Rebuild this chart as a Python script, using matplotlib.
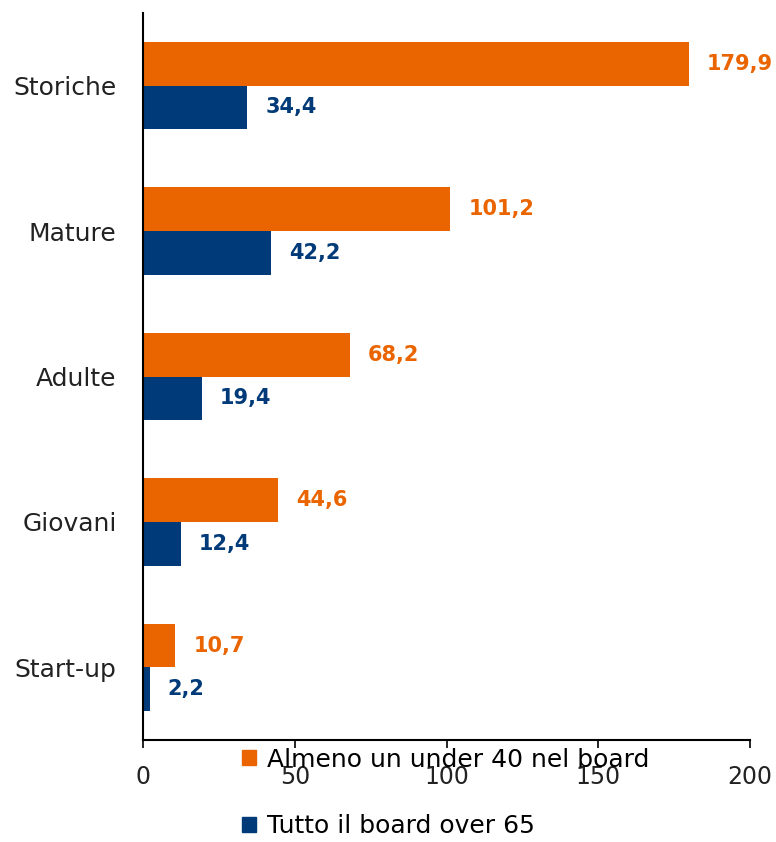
import matplotlib
matplotlib.use("Agg")
import matplotlib.pyplot as plt
import numpy as np
from matplotlib.patches import Patch

categories = ["Storiche", "Mature", "Adulte", "Giovani", "Start-up"]
under40 = [179.9, 101.2, 68.2, 44.6, 10.7]
over65 = [34.4, 42.2, 19.4, 12.4, 2.2]
series_names = ["Almeno un under 40 nel board", "Tutto il board over 65"]
xticks = [0, 50, 100, 150, 200]

ORANGE = "#EA6500"
BLUE = "#003A78"
LABEL_FONT = ["DejaVu Sans"]


def fmt(v):
    return f"{v:.1f}".replace(".", ",")


fig = plt.figure(figsize=(7.76, 8.42), dpi=100)
ax = fig.add_axes([0.1843, 0.1211, 0.7822, 0.8635])

y = np.arange(len(categories))
h = 0.30
b1 = ax.barh(y - h / 2, under40, height=h, color=ORANGE)
b2 = ax.barh(y + h / 2, over65, height=h, color=BLUE)

for bars, vals, col in [(b1, under40, ORANGE), (b2, over65, BLUE)]:
    for bar, v in zip(bars, vals):
        ax.annotate(fmt(v), (bar.get_width(), bar.get_y() + bar.get_height() / 2),
                    xytext=(13, 0), textcoords="offset points",
                    ha="left", va="center", color=col, fontsize=15,
                    fontweight="bold", family=LABEL_FONT)

ax.set_ylim(len(categories) - 0.5, -0.5)
ax.set_xlim(0, 200)
ax.set_yticks(y)
ax.set_yticklabels(categories, family=LABEL_FONT, fontsize=18, color="#222222")
ax.set_xticks(xticks)
ax.set_xticklabels([str(t) for t in xticks], family=LABEL_FONT, fontsize=17, color="#222222")
ax.tick_params(axis="y", length=0, pad=19)
ax.tick_params(axis="x", length=6, width=1.2, pad=12)
for s in ["top", "right"]:
    ax.spines[s].set_visible(False)
ax.spines["left"].set_linewidth(1.5)
ax.spines["bottom"].set_linewidth(1.5)

handles = [Patch(color=ORANGE), Patch(color=BLUE)]
fig.legend(handles, series_names, loc="upper left", bbox_to_anchor=(0.312, 0.112),
           frameon=False, prop={"family": LABEL_FONT, "size": 18},
           handlelength=0.55, handleheight=0.55, handletextpad=0.45,
           labelspacing=1.7, borderpad=0, borderaxespad=0)

fig.savefig("out.png", dpi=100)
